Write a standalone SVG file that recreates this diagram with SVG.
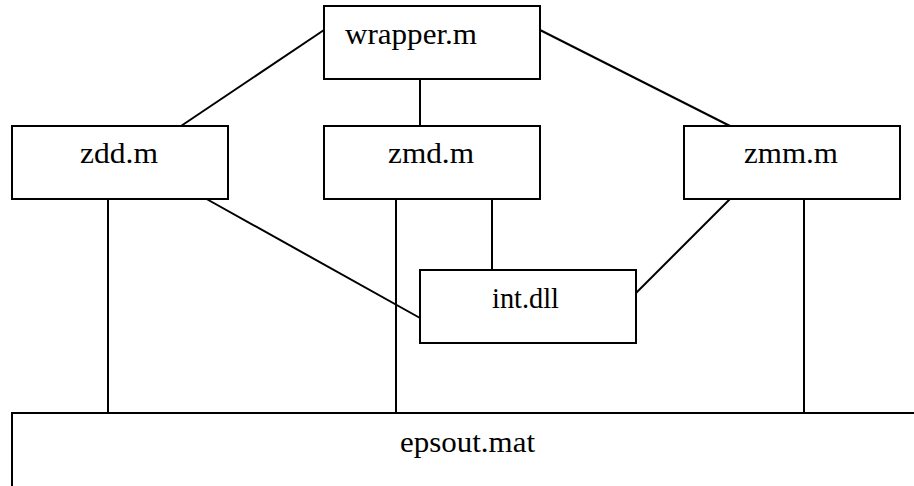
<svg xmlns="http://www.w3.org/2000/svg" width="914" height="486" viewBox="0 0 914 486">
<style>
.box{fill:#fff;stroke:#000;stroke-width:2}
.ln{stroke:#000;stroke-width:2;fill:none}
</style>
<rect width="914" height="486" fill="#fff"/>
<g id="connectors">
<line class="ln" x1="181" y1="126" x2="324" y2="30"/>
<line class="ln" x1="420" y1="79" x2="420" y2="126"/>
<line class="ln" x1="730" y1="126" x2="540" y2="30"/>
<line class="ln" x1="108" y1="199" x2="108" y2="413"/>
<line class="ln" x1="203" y1="197" x2="420" y2="318"/>
<line class="ln" x1="396" y1="199" x2="396" y2="413"/>
<line class="ln" x1="492" y1="199" x2="492" y2="270"/>
<line class="ln" x1="732" y1="197" x2="636" y2="293"/>
<line class="ln" x1="804" y1="199" x2="804" y2="413"/>
</g>
<g id="wrapper">
<rect class="box" x="324" y="6" width="216" height="73"/>
<text font-family="'Liberation Serif', serif" font-size="29" x="345" y="44" textLength="132" lengthAdjust="spacingAndGlyphs">wrapper.m</text>
</g>
<g id="zdd">
<rect class="box" x="12" y="126" width="216" height="73"/>
<text font-family="Liberation Serif" font-size="29" x="80" y="163" textLength="78" lengthAdjust="spacingAndGlyphs">zdd.m</text>
</g>
<g id="zmd">
<rect class="box" x="324" y="126" width="216" height="73"/>
<text font-family="'Liberation Serif', serif" font-size="29" x="388" y="163" textLength="86" lengthAdjust="spacingAndGlyphs">zmd.m</text>
</g>
<g id="zmm">
<rect class="box" x="684" y="126" width="216" height="73"/>
<text font-family="'Liberation Serif', serif" font-size="29" x="744" y="163" textLength="94" lengthAdjust="spacingAndGlyphs">zmm.m</text>
</g>
<g id="intdll">
<rect class="box" x="420" y="270" width="216" height="73"/>
<text font-family="'Liberation Serif', serif" font-size="29" x="492" y="308" textLength="67" lengthAdjust="spacingAndGlyphs">int.dll</text>
</g>
<g id="epsout">
<path class="ln" d="M12,500 L12,413 L916,413"/>
<text font-family="'Liberation Serif', serif" font-size="29" x="400" y="452" textLength="135" lengthAdjust="spacingAndGlyphs">epsout.mat</text>
</g>
</svg>
